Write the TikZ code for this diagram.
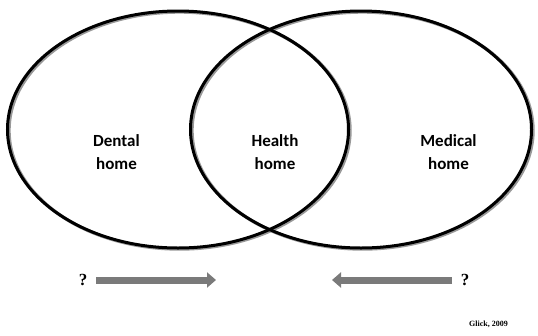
\documentclass[tikz,border=0pt]{standalone}
\usepackage{fontspec}
\setmainfont{Carlito}
\newfontfamily\timesfont{Liberation Serif}
\usetikzlibrary{shapes.geometric,arrows.meta}
\begin{document}
\begin{tikzpicture}[x=1pt,y=-1pt,
  homeset/.style={ellipse,draw=black,line width=3pt,minimum width=341pt,minimum height=237pt,inner sep=0pt},
  homeshadow/.style={ellipse,draw=black!40,line width=3.4pt,minimum width=341pt,minimum height=237pt,inner sep=0pt},
  label/.style={font=\fontsize{17}{23}\selectfont\bfseries,align=center,text=black},
  flow/.style={draw=black!52,line width=7pt,-{Triangle[width=15pt,length=9pt]}},
  ask/.style={font=\timesfont\fontsize{17}{20}\selectfont\bfseries},
  cite/.style={font=\timesfont\fontsize{8}{10}\selectfont\bfseries}]
\useasboundingbox (0,0) rectangle (538,335);
% soft shadows under the two outlines
\node[homeshadow] at (179.5,130.5) {};
\node[homeshadow] at (362.5,130.5) {};
% the two overlapping homes
\node[homeset] (dent) at (178,129.5) {};
\node[homeset] (med) at (361,129.5) {};
% labels
\node[label] (dl) at (116.5,152) {Dental\\home};
\node[label] (hl) at (275,152) {Health\\home};
\node[label] (ml) at (448.5,152) {Medical\\home};
% movement towards the shared home
\node[ask] (q1) at (83,280) {?};
\node[ask] (q2) at (465,280) {?};
\coordinate (a1s) at (96,280);
\coordinate (a1e) at (216,280);
\coordinate (a2s) at (452,280);
\coordinate (a2e) at (332,280);
\draw[flow] (a1s) -- (a1e);
\draw[flow] (a2s) -- (a2e);
% citation
\node[cite] (src) at (488.5,324) {Glick, 2009};
\end{tikzpicture}
\end{document}
